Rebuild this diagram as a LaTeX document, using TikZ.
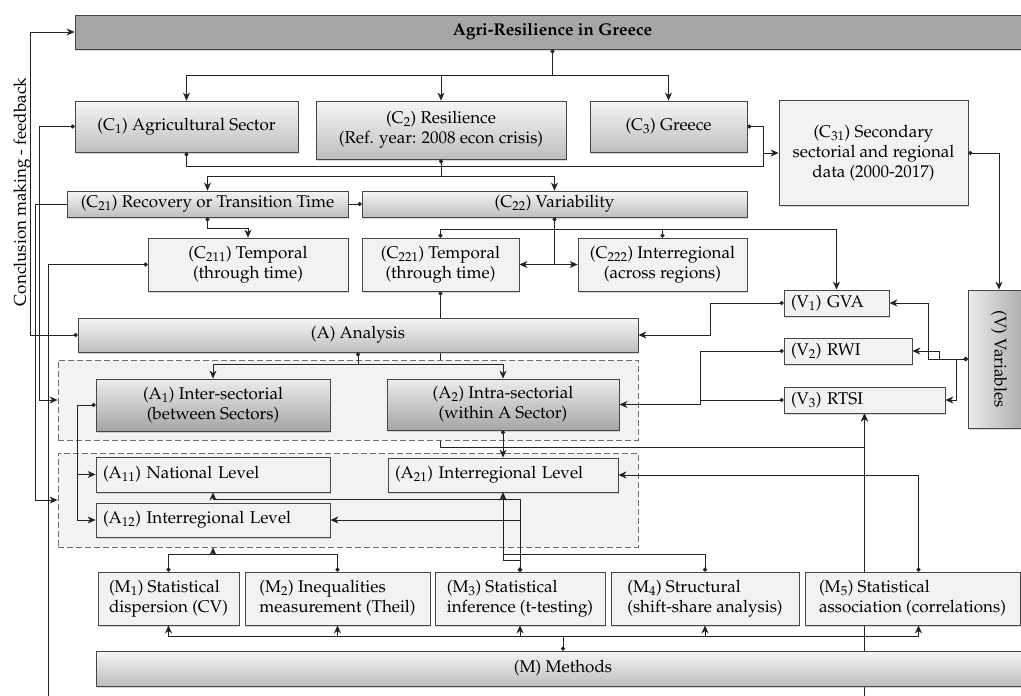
\documentclass[tikz,border=0pt]{standalone}
\usepackage[T1]{fontenc}
\usepackage{mathpazo}
\usepackage{tikz}
\usetikzlibrary{arrows.meta, calc, positioning, shadows}
\definecolor{boxline}{RGB}{70, 70, 70}
\definecolor{linkcol}{RGB}{35, 35, 35}
\definecolor{flatfill}{RGB}{242, 242, 242}
\definecolor{titlefill}{RGB}{166, 166, 166}
\definecolor{shadetop}{RGB}{246, 246, 246}
\definecolor{shadebot}{RGB}{190, 190, 190}
\definecolor{darktop}{RGB}{236, 236, 236}
\definecolor{darkbot}{RGB}{165, 165, 165}
\definecolor{groupline}{RGB}{110, 110, 110}
\pgfdeclarelayer{back}
\pgfdeclarelayer{group}
\pgfsetlayers{back,group,main}

\begin{document}
\begin{tikzpicture}[
        x=1pt, y=-1pt,
        font=\fontsize{17}{20}\selectfont,
        base/.style={draw=boxline, line width=0.8pt, inner sep=2pt, align=center,
                     drop shadow={opacity=0.3, shadow xshift=1pt, shadow yshift=-1.5pt}},
        flatbox/.style={base, fill=flatfill},
        shadebox/.style={base, top color=shadetop, bottom color=shadebot},
        darkbox/.style={base, top color=darktop, bottom color=darkbot},
        leftbox/.style={flatbox, align=left, inner xsep=7pt, text width=#1},
        groupbox/.style={draw=groupline, dash pattern=on 6pt off 3pt,
                         line width=0.8pt, fill=flatfill},
        link/.style={draw=linkcol, line width=0.85pt},
        arrow/.style={link, -{Stealth[length=8pt, width=7pt, inset=2.5pt]}},
        dotlink/.style={link, {Circle[length=4pt]}-},
        dotarrow/.style={link, {Circle[length=4pt]}-{Stealth[length=8pt, width=7pt, inset=2.5pt]}}
    ]
        \begin{pgfonlayer}{back}
            \path[use as bounding box, fill=white] (0,0) rectangle (1021,696);
        \end{pgfonlayer}
        \clip (0,0) rectangle (1021,696);

        % Title bar and feedback text
        \node[base, fill=titlefill, minimum width=955pt, minimum height=34pt,
              font=\fontsize{17}{20}\selectfont\bfseries] (top) at (552.5,32)
            {Agri-Resilience in Greece};
        \node[rotate=90] (fbtext) at (22,192) {Conclusion making - feedback};

        % Concepts
        \node[shadebox, minimum width=223pt, minimum height=51pt] (C1) at (186.5,126.5)
            {(C\textsubscript{1}) Agricultural Sector};
        \node[shadebox, minimum width=250pt, minimum height=58pt] (C2) at (441,130)
            {(C\textsubscript{2}) Resilience\\(Ref. year: 2008 econ crisis)};
        \node[shadebox, minimum width=157pt, minimum height=51pt] (C3) at (668.5,126.5)
            {(C\textsubscript{3}) Greece};
        \node[flatbox, minimum width=189pt, minimum height=105pt] (C31) at (873.5,153)
            {(C\textsubscript{31}) Secondary\\sectorial and regional\\data (2000-2017)};
        \node[shadebox, minimum width=281pt, minimum height=26pt] (C21) at (207.5,204)
            {(C\textsubscript{21}) Recovery or Transition Time};
        \node[shadebox, minimum width=385pt, minimum height=26pt] (C22) at (554.5,204)
            {(C\textsubscript{22}) Variability};
        \node[flatbox, minimum width=200pt, minimum height=53pt] (C211) at (248,264.5)
            {(C\textsubscript{211}) Temporal\\(through time)};
        \node[flatbox, minimum width=157pt, minimum height=53pt] (C221) at (440.5,264.5)
            {(C\textsubscript{221}) Temporal\\(through time)};
        \node[flatbox, minimum width=169pt, minimum height=53pt] (C222) at (662.5,264.5)
            {(C\textsubscript{222}) Interregional\\(across regions)};

        % Variables
        \node[leftbox=91pt, minimum height=26pt] (V1) at (836.5,303)
            {(V\textsubscript{1}) GVA};
        \node[leftbox=114pt, minimum height=26pt] (V2) at (848,351)
            {(V\textsubscript{2}) RWI};
        \node[leftbox=147pt, minimum height=26pt] (V3) at (864.5,400)
            {(V\textsubscript{3}) RTSI};
        \node[base, rotate=-90, left color=darktop, right color=darkbot,
              minimum width=138pt, minimum height=62pt] (V) at (999,359)
            {(V) Variables};

        % Analysis
        \node[shadebox, minimum width=560pt, minimum height=34pt] (Analysis) at (358,335)
            {(A) Analysis};
        \begin{pgfonlayer}{group}
            \node[groupbox, minimum width=580pt, minimum height=80pt] (grpS) at (348,400) {};
            \node[groupbox, minimum width=580pt, minimum height=94pt] (grpL) at (348,500) {};
        \end{pgfonlayer}
        \node[darkbox, minimum width=234pt, minimum height=52pt] (A1) at (213,405)
            {(A\textsubscript{1}) Inter-sectorial\\(between Sectors)};
        \node[darkbox, minimum width=232pt, minimum height=51pt] (A2) at (503,404.5)
            {(A\textsubscript{2}) Intra-sectorial\\(within A Sector)};
        \node[leftbox=220pt, minimum height=35pt] (A11) at (213,474.5)
            {(A\textsubscript{11}) National Level};
        \node[leftbox=220pt, minimum height=34pt] (A12) at (213,520)
            {(A\textsubscript{12}) Interregional Level};
        \node[leftbox=216pt, minimum height=34pt] (A21) at (503,475)
            {(A\textsubscript{21}) Interregional Level};

        % Methods
        \node[flatbox, align=left, minimum width=141pt, minimum height=53pt] (M1) at (168.5,598.5)
            {(M\textsubscript{1}) Statistical\\dispersion (CV)};
        \node[flatbox, align=left, minimum width=185pt, minimum height=53pt] (M2) at (337.5,598.5)
            {(M\textsubscript{2}) Inequalities\\measurement (Theil)};
        \node[flatbox, align=left, minimum width=170pt, minimum height=53pt] (M3) at (520,598.5)
            {(M\textsubscript{3}) Statistical\\inference (t-testing)};
        \node[flatbox, align=left, minimum width=188pt, minimum height=53pt] (M4) at (705,598.5)
            {(M\textsubscript{4}) Structural\\(shift-share analysis)};
        \node[flatbox, align=left, minimum width=215pt, minimum height=53pt] (M5) at (912.5,598.5)
            {(M\textsubscript{5}) Statistical\\association (correlations)};
        \node[shadebox, minimum width=934pt, minimum height=35pt] (Methods) at (563,668.5)
            {(M) Methods};

        % Title to concepts
        \draw[dotlink] (top.south) -- ++(0,26) coordinate (topj);
        \draw[arrow] (topj) -| (C1.north);
        \draw[arrow] (topj) -| (C2.north);
        \draw[arrow] (topj) -| (C3.north);

        % Concepts to secondary data
        \coordinate (datain) at (763,153);
        \draw[dotlink] (C3.east) -| (datain);
        \draw[dotarrow] (C1.south) -- ++(0,14) -| (datain) -- (C31.west);
        \draw[dotlink] (C2.south) -- ++(0,17) coordinate (c2j);
        \draw[arrow] (c2j) -| (C21.north);
        \draw[arrow] (c2j) -| (C22.north);
        \draw[dotlink] (C22.west) -- (C21.east);
        \draw[dotarrow] (C21.south) -- ++(0,11) -| (C211.north);
        \draw[dotlink] (C22.south) -- (C22.south |- C221.east) coordinate (c22j);
        \draw[arrow] (c22j) -- (C221.east);
        \draw[arrow] (c22j) -- (C222.west);
        \draw[dotarrow] (C221.north) -- ++(0,-8) -| (V1.north);
        \draw[dotlink] (C222.north) -- ++(0,-8);

        % Data to variables
        \draw[dotarrow] (C31.east) -| (V.west);
        \draw[dotarrow] (V.south) -- ++(-39,0) |- (V1.east);
        \draw[dotarrow] (V.south) -- ++(-28,0) |- (V2.east);
        \draw[dotarrow] (V.south) -- ++(-11,0) |- (V3.east);
        \draw[dotarrow] (V1.west) -- ++(-73,0) |- (Analysis.east);
        \draw[dotarrow] (V2.west) -- ++(-83,0) |- (A2.east);
        \draw[dotlink] (V3.west) -- ++(-83,0);

        % Analysis levels
        \draw[dotlink] (Analysis.south) -- ++(0,12) coordinate (aj);
        \draw[arrow] (aj) -| (A1.north);
        \draw[arrow] (aj) -| (A2.north);
        \draw[dotarrow] (A2.south) -- (A21.north);
        \draw[dotlink] (A1.west) -- ++(-18,0) coordinate (a1j);
        \draw[arrow] (a1j) |- (A11.west);
        \draw[arrow] (a1j) |- (A12.west);

        % Feedback and left side lines
        \draw[dotarrow] (Analysis.west) -- ++(-47,0) |- (top.west);
        \draw[dotarrow] (C1.west) -- ++(-35,0) |- (grpS.west);
        \draw[arrow] (C21.west) -- ++(-31.3,0) |- (grpL.west);
        \coordinate (lowleft) at (48,696);
        \draw[dotlink] (C211.west) -| (lowleft);

        % Lines running behind the boxes
        \begin{pgfonlayer}{back}
            \draw[dotarrow] (C221.south) -- (C221.south |- 0,447) -| (V3.south);
            \coordinate (lowright) at (864.5,696);
            \draw[arrow] (lowright) -- (V3.south);
        \end{pgfonlayer}

        % Methods to analysis
        \draw[dotlink] (Methods.north) -- ++(0,-14) coordinate (mj);
        \draw[arrow] (mj) -| (M1.south);
        \draw[arrow] (mj) -| (M2.south);
        \draw[arrow] (mj) -| (M3.south);
        \draw[arrow] (mj) -| (M4.south);
        \draw[arrow] (mj) -| ([xshift=6pt]M5.south);
        \coordinate (mlj) at (A12.south |- 0,554);
        \draw[dotlink] (M1.north) |- (mlj);
        \draw[dotlink] (M2.north) |- (mlj);
        \draw[arrow] (mlj) -- (mlj |- grpL.south);
        \draw[dotarrow] (M3.north) |- (A12.east);
        \draw[dotarrow] (M3.north) |- (A11.south |- 0,499) -- (A11.south);
        \draw[dotarrow] (M3.north) -- ++(0,-11) -| (A21.south);
        \draw[dotarrow] (M4.north) |- (A21.south |- 0,554) -- (A21.south);
        \draw[dotarrow] ([xshift=6pt]M5.north) |- (A21.east);
    \end{tikzpicture}
\end{document}
